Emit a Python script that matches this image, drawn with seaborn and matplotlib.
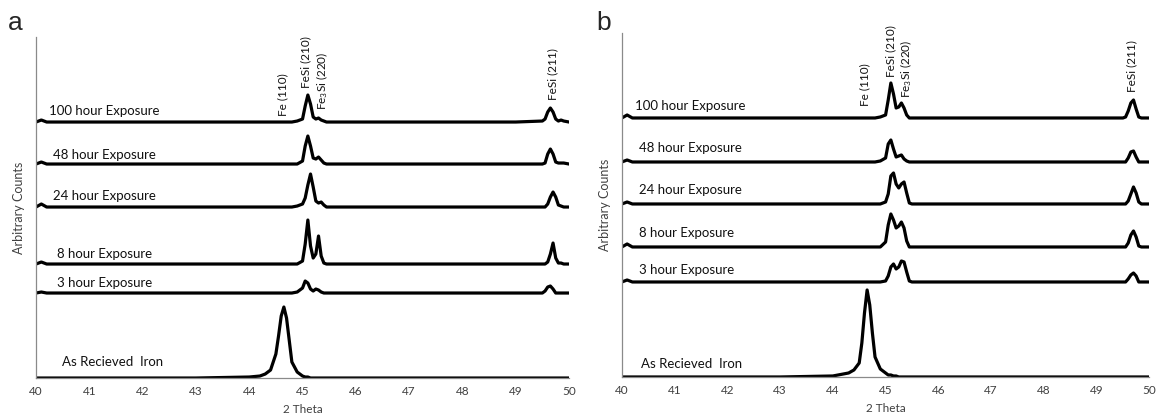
import numpy as np
import pandas as pd
import matplotlib
matplotlib.use("Agg")
import matplotlib.pyplot as plt
import seaborn as sns

# ---------------- data ----------------
two_theta = [40.0, 40.1, 40.2, 41.0, 42.0, 43.0, 44.0, 44.2, 44.3, 44.4, 44.5, 44.55,
             44.6, 44.65, 44.7, 44.75, 44.8, 44.9, 45.0, 45.05, 45.1, 45.15, 45.2,
             45.25, 45.3, 45.35, 45.4, 45.45, 45.5, 46.0, 47.0, 48.0, 49.0, 49.5,
             49.55, 49.6, 49.65, 49.7, 49.75, 49.8, 49.85, 49.9, 50.0]

series_names = ["100 hour Exposure", "48 hour Exposure", "24 hour Exposure",
                "8 hour Exposure", "3 hour Exposure", "As Recieved  Iron"]

# panel a intensities (arbitrary counts)
a_100h = [0, 2, 0, 0, 0, 0, 0, 0, 0, 0, 0, 0, 0, 0, 0, 0, 0, 1, 3, 16, 27, 18, 5,
          3, 4, 2, 1, 0, 0, 0, 0, 0, 0, 1, 3, 10, 14, 10, 3, 1, 2, 1, 0]
a_48h = [0, 2, 0, 0, 0, 0, 0, 0, 0, 0, 0, 0, 0, 0, 0, 0, 0, 0, 3, 18, 28, 18, 6,
         5, 7, 4, 1, 0, 0, 0, 0, 0, 0, 0, 1, 10, 15, 10, 2, 1, 1, 1, 0]
a_24h = [0, 3, 0, 0, 0, 0, 0, 0, 0, 0, 0, 0, 0, 0, 0, 0, 0, 1, 3, 9, 22, 33, 20,
         6, 4, 5, 2, 0, 0, 0, 0, 0, 0, 0, 0, 3, 10, 15, 10, 2, 1, 0, 0]
a_8h = [0, 2, 0, 0, 0, 0, 0, 0, 0, 0, 0, 0, 0, 0, 0, 0, 0, 0, 3, 20, 44, 18, 6,
        10, 28, 8, 1, 0, 0, 0, 0, 0, 0, 0, 0, 2, 10, 21, 6, 1, 1, 0, 0]
a_3h = [0, 1, 0, 0, 0, 0, 0, 0, 0, 0, 0, 0, 0, 0, 0, 0, 0, 1, 5, 12, 10, 4, 2,
        4, 3, 1, 0, 0, 0, 0, 0, 0, 0, 0, 2, 6, 7, 4, 0, 0, 0, 0, 0]
a_iron = [0, 0, 0, 0, 0, 0, 1, 2, 4, 8, 24, 42, 62, 71, 60, 38, 16, 6, 2, 1, 1,
          0, 0, 0, 0, 0, 0, 0, 0, 0, 0, 0, 0, 0, 0, 0, 0, 0, 0, 0, 0, 0, 0]

# panel b intensities (arbitrary counts)
b_100h = [0, 3, 0, 0, 0, 0, 0, 0, 0, 0, 0, 0, 0, 0, 0, 0, 0, 1, 3, 18, 35, 24, 10,
          11, 15, 10, 3, 0, 0, 0, 0, 0, 0, 0, 1, 7, 15, 18, 9, 1, 0, 0, 0]
b_48h = [0, 2, 0, 0, 0, 0, 0, 0, 0, 0, 0, 0, 0, 0, 0, 0, 0, 1, 4, 18, 22, 13, 5,
         6, 7, 3, 1, 0, 0, 0, 0, 0, 0, 0, 0, 4, 10, 11, 5, 0, 0, 0, 0]
b_24h = [0, 2, 0, 0, 0, 0, 0, 0, 0, 0, 0, 0, 0, 0, 0, 0, 0, 0, 2, 10, 28, 31, 20,
         16, 20, 22, 11, 1, 0, 0, 0, 0, 0, 0, 0, 3, 10, 17, 11, 2, 0, 0, 0]
b_8h = [0, 3, 0, 0, 0, 0, 0, 0, 0, 0, 0, 0, 0, 0, 0, 0, 0, 0, 5, 22, 33, 27, 19,
        21, 25, 19, 6, 0, 0, 0, 0, 0, 0, 0, 0, 4, 12, 16, 10, 1, 0, 0, 0]
b_3h = [0, 2, 0, 0, 0, 0, 0, 0, 0, 0, 0, 0, 0, 0, 0, 0, 0, 0, 1, 6, 15, 18, 13,
        15, 21, 20, 10, 1, 0, 0, 0, 0, 0, 0, 0, 3, 7, 9, 6, 0, 0, 0, 0]
b_iron = [0, 0, 0, 0, 0, 0, 1, 3, 4, 7, 14, 34, 64, 87, 72, 44, 20, 8, 4, 2, 2,
          1, 1, 0, 0, 0, 0, 0, 0, 0, 0, 0, 0, 0, 0, 0, 0, 0, 0, 0, 0, 0, 0]

peak_labels = ["Fe (110)", "FeSi (210)", "Fe$_3$Si (220)", "FeSi (211)"]
x_ticks = [40, 41, 42, 43, 44, 45, 46, 47, 48, 49, 50]

# ---------------- layout (not data) ----------------
offsets_a = [256, 214, 171, 114, 85, 0]
offsets_b = [259, 215, 173, 130, 95, 0]
label_pos_a = [(40.24, 267), (40.32, 223), (40.32, 182), (40.39, 124), (40.39, 95), (40.49, 16)]
label_pos_b = [(40.24, 271), (40.32, 229), (40.32, 187), (40.32, 144), (40.32, 107), (40.36, 13)]
peak_pos_a = [(44.63, 262), (45.07, 290), (45.37, 268), (49.70, 278)]
peak_pos_b = [(44.60, 271), (45.09, 300), (45.40, 279), (49.67, 285)]

sns.set_style("white")
plt.rcParams["font.family"] = ["Lato", "DejaVu Sans"]
plt.rcParams["mathtext.default"] = "regular"

fig = plt.figure(figsize=(11.58, 4.16), dpi=100)
ax_a = fig.add_axes([0.0311, 0.0913, 0.4603, 0.8197])
ax_b = fig.add_axes([0.5370, 0.0938, 0.4555, 0.8269])


def make_frame(series_list, offsets):
    rows = []
    for name, vals, off in zip(series_names, series_list, offsets):
        for x, v in zip(two_theta, vals):
            rows.append({"theta": x, "counts": v + off, "series": name})
    return pd.DataFrame(rows)


panels = [
    (ax_a, [a_100h, a_48h, a_24h, a_8h, a_3h, a_iron], offsets_a, label_pos_a, peak_pos_a, 341),
    (ax_b, [b_100h, b_48h, b_24h, b_8h, b_3h, b_iron], offsets_b, label_pos_b, peak_pos_b, 344),
]

for ax, data, offs, lpos, ppos, ytop in panels:
    df = make_frame(data, offs)
    sns.lineplot(data=df, x="theta", y="counts", units="series", estimator=None,
                 color="black", linewidth=2.3, ax=ax, legend=False)
    for line in ax.get_lines():
        line.set_solid_joinstyle("round")
    ax.set_xlim(40, 50)
    ax.set_ylim(0, ytop)
    ax.set_xticks(x_ticks)
    ax.set_xticklabels([str(t) for t in x_ticks])
    ax.set_yticks([])
    ax.tick_params(axis="x", length=0, labelsize=8.5, labelcolor="#404040", pad=6)
    ax.set_xlabel("2 Theta", fontsize=8.5, color="#404040", labelpad=5)
    ax.set_ylabel("Arbitrary Counts", fontsize=9, color="#404040", labelpad=8)
    for s in ["top", "right"]:
        ax.spines[s].set_visible(False)
    for s in ["left", "bottom"]:
        ax.spines[s].set_color("#8a8a8a")
        ax.spines[s].set_linewidth(0.9)
    for name, (lx, ly) in zip(series_names, lpos):
        ax.text(lx, ly, name, fontsize=9.5, color="#111111", ha="left", va="center")
    for lab, (px, py) in zip(peak_labels, ppos):
        ax.text(px, py, lab, fontsize=8.5, color="#111111", rotation=90,
                ha="center", va="bottom")

fig.text(0.007, 0.945, "a", fontsize=19, family="Liberation Sans", ha="left", va="center")
fig.text(0.515, 0.945, "b", fontsize=19, family="Liberation Sans", ha="left", va="center")

fig.savefig("out.png", dpi=100)
